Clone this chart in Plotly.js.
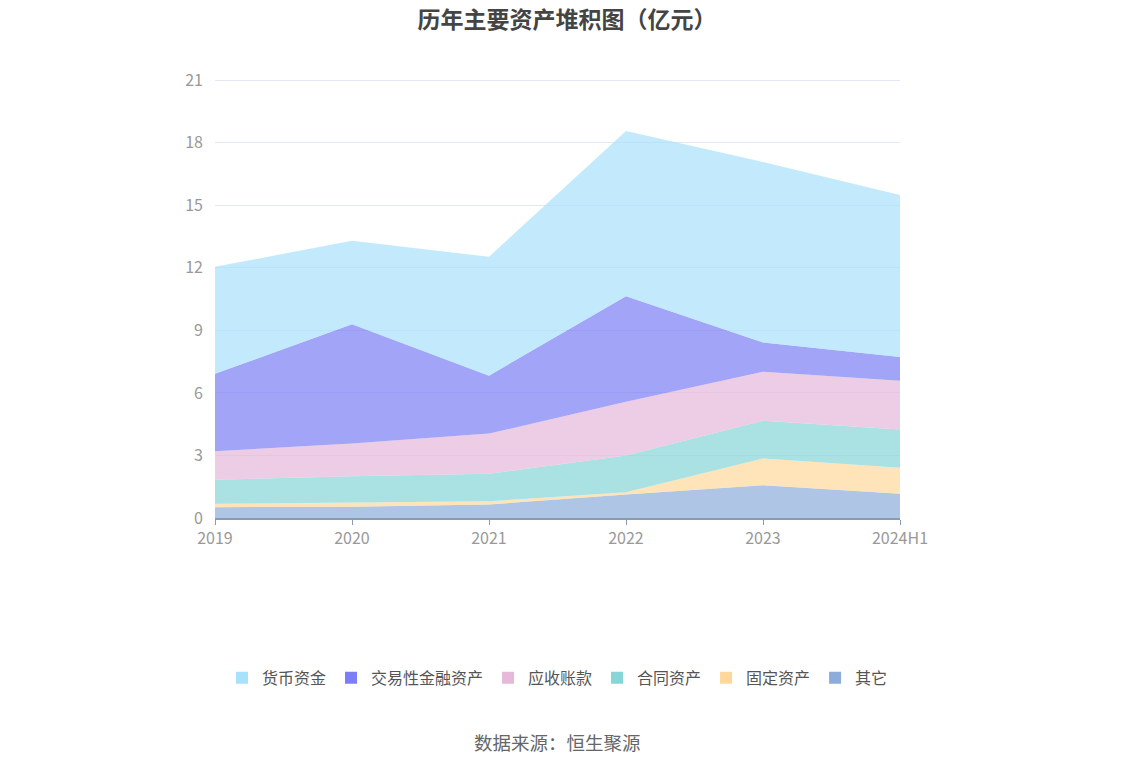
<!DOCTYPE html>
<html>
<head>
<meta charset="utf-8">
<script src="https://cdn.plot.ly/plotly-3.0.1.min.js"></script>
<style>
  html, body { margin: 0; padding: 0; background: #fff; }
  #chart { width: 1134px; height: 766px; }
</style>
</head>
<body>
<div id="chart"></div>
<script>
var years = ['2019', '2020', '2021', '2022', '2023', '2024H1'];

// 各项资产（亿元），自下而上堆积
var qita = [0.52, 0.54, 0.65, 1.13, 1.57, 1.16];
var gudingzichan = [0.16, 0.19, 0.15, 0.11, 1.28, 1.25];
var hetongzichan = [1.16, 1.27, 1.32, 1.76, 1.81, 1.83];
var yingshouzhangkuan = [1.36, 1.57, 1.93, 2.58, 2.36, 2.35];
var jiaoyixingjinrong = [3.72, 5.73, 2.78, 5.06, 1.40, 1.13];
var huobizijin = [5.13, 4.00, 5.70, 7.93, 8.66, 7.77];

var names = ['货币资金', '交易性金融资产', '应收账款', '合同资产', '固定资产', '其它'];
var legendColors = ['#a8e1fb', '#7b7ef5', '#e6b8da', '#86d6d8', '#fdd89a', '#8cacdc'];
var fillColors = ['rgba(168,225,251,0.7)', 'rgba(123,126,245,0.7)', 'rgba(230,184,218,0.7)',
                  'rgba(134,214,216,0.7)', 'rgba(253,216,154,0.7)', 'rgba(140,172,220,0.7)'];
var series = [huobizijin, jiaoyixingjinrong, yingshouzhangkuan, hetongzichan, gudingzichan, qita];

var data = [];
// 面积（从下往上叠）
for (var i = series.length - 1; i >= 0; i--) {
  data.push({
    x: years,
    y: series[i],
    name: names[i],
    type: 'scatter',
    mode: 'lines',
    stackgroup: 'a',
    line: { width: 0, color: fillColors[i] },
    fillcolor: fillColors[i],
    legendgroup: names[i],
    showlegend: false,
    hoverinfo: 'x+y+name'
  });
}
// 图例用的方块
for (var j = 0; j < names.length; j++) {
  data.push({
    x: [years[0]],
    y: [0],
    name: names[j],
    type: 'bar',
    marker: { color: legendColors[j], line: { width: 0 } },
    legendgroup: names[j],
    legendrank: j + 1,
    hoverinfo: 'skip'
  });
}

var layout = {
  width: 1134,
  height: 766,
  margin: { l: 215, r: 234, t: 74, b: 248 },
  paper_bgcolor: '#fff',
  plot_bgcolor: '#fff',
  font: { family: '"Noto Sans CJK SC", "Noto Sans", sans-serif', color: '#666', size: 14 },
  title: {
    text: '<b>历年主要资产堆积图（亿元）</b>',
    x: 0.5, xanchor: 'center',
    y: 0.974, yanchor: 'middle',
    font: { size: 23, color: '#444' }
  },
  xaxis: {
    type: 'category',
    range: [0, 5],
    showgrid: false,
    showline: true,
    linecolor: '#8a9ab0',
    linewidth: 2,
    ticks: 'outside',
    ticklen: 5,
    tickcolor: '#8a9ab0',
    tickfont: { size: 16, color: '#999' },
    zeroline: false
  },
  yaxis: {
    range: [0, 21.3],
    tickvals: [0, 3, 6, 9, 12, 15, 18, 21],
    showgrid: true,
    gridcolor: '#e4e7f4',
    showline: false,
    zeroline: false,
    ticks: '',
    ticklabelstandoff: 11,
    tickfont: { size: 16, color: '#999' }
  },
  barmode: 'overlay',
  showlegend: true,
  legend: {
    orientation: 'h',
    x: 0.5, xanchor: 'center',
    y: -0.36, yanchor: 'middle',
    traceorder: 'normal',
    font: { size: 16, color: '#555' },
    itemwidth: 30
  },
  annotations: [{
    text: '数据来源：恒生聚源',
    xref: 'paper', yref: 'paper',
    x: 0.5, xanchor: 'center',
    y: -0.505, yanchor: 'middle',
    showarrow: false,
    font: { size: 18.5, color: '#666' }
  }]
};

Plotly.newPlot('chart', data, layout, { displayModeBar: false, responsive: false });
</script>
</body>
</html>
